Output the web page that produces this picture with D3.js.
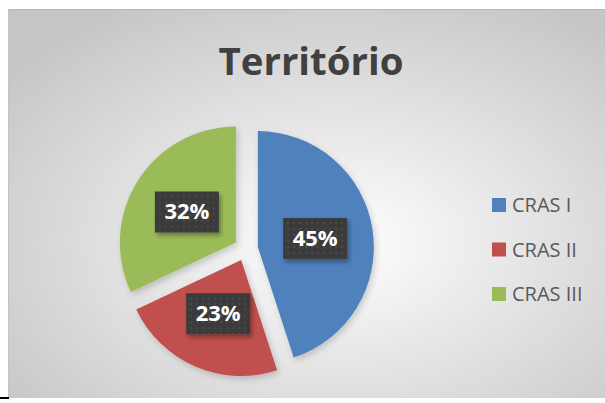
<!DOCTYPE html>
<html>
<head>
<meta charset="utf-8">
<script src="https://cdn.jsdelivr.net/npm/d3@7"></script>
<style>
  body { margin: 0; background: #fff; }
  svg { display: block; }
</style>
</head>
<body>
<svg id="chart"></svg>
<script>
// chart data
var title = "Território";
var categories = ["CRAS I", "CRAS II", "CRAS III"];
var values = [45, 23, 32];
var colors = ["#4f81bd", "#c0504d", "#9bbb59"];

var W = 605, H = 403;
var svg = d3.select("#chart").attr("width", W).attr("height", H);
var defs = svg.append("defs");

// background gradient of the chart area
var bg = defs.append("radialGradient").attr("id", "bg")
    .attr("cx", "0.55").attr("cy", "0.6").attr("r", "0.7");
bg.append("stop").attr("offset", "0%").attr("stop-color", "#ffffff");
bg.append("stop").attr("offset", "100%").attr("stop-color", "#c6c6c6");

// dotted pattern for label boxes
var pat = defs.append("pattern").attr("id", "dots")
    .attr("width", 6).attr("height", 6).attr("patternUnits", "userSpaceOnUse");
pat.append("rect").attr("width", 6).attr("height", 6).attr("fill", "#3a3a3a");
pat.append("circle").attr("cx", 3).attr("cy", 3).attr("r", 1).attr("fill", "#505050");

var sh = defs.append("filter").attr("id", "shadow")
    .attr("x", "-20%").attr("y", "-20%").attr("width", "150%").attr("height", "150%");
sh.append("feDropShadow").attr("dx", 2).attr("dy", 3).attr("stdDeviation", 3)
    .attr("flood-color", "#000").attr("flood-opacity", 0.18);

var shBox = defs.append("filter").attr("id", "shadowBox")
    .attr("x", "-20%").attr("y", "-20%").attr("width", "150%").attr("height", "160%");
shBox.append("feDropShadow").attr("dx", 2).attr("dy", 3).attr("stdDeviation", 2)
    .attr("flood-color", "#000").attr("flood-opacity", 0.35);

// chart area
svg.append("rect").attr("x", 8).attr("y", 9).attr("width", W - 8).attr("height", 389)
    .attr("fill", "url(#bg)");
svg.append("line").attr("x1", 8).attr("x2", W).attr("y1", 9.5).attr("y2", 9.5)
    .attr("stroke", "#b8b8b8");
svg.append("line").attr("x1", 8.5).attr("x2", 8.5).attr("y1", 9).attr("y2", 398)
    .attr("stroke", "#c4c4c4");
svg.append("rect").attr("x", 0).attr("y", 397).attr("width", 9).attr("height", 2)
    .attr("fill", "#000");

// title
var t = svg.append("text")
    .attr("x", 311).attr("y", 75)
    .attr("text-anchor", "middle")
    .attr("font-family", "Open Sans")
    .attr("font-weight", "bold")
    .attr("font-size", 40)
    .attr("fill", "#404040")
    .text(title);
var tw = t.node().getComputedTextLength();
t.attr("font-size", 40 * 185 / tw);

// pie
var cx = 246, cy = 249, R = 116, explode = 12, labelR = 58;
var pie = d3.pie().sort(null).value(function(d){ return d; });
var arcs = pie(values);
var arc = d3.arc().innerRadius(0).outerRadius(R);
var total = d3.sum(values);

function dir(d){
    var a = (d.startAngle + d.endAngle) / 2;
    return [Math.sin(a), -Math.cos(a)];
}

var slices = svg.append("g").attr("transform", "translate(" + cx + "," + cy + ")");
slices.selectAll("path")
    .data(arcs)
    .enter().append("path")
    .attr("d", arc)
    .attr("fill", function(d, i){ return colors[i]; })
    .attr("filter", "url(#shadow)")
    .attr("transform", function(d){
        var v = dir(d);
        return "translate(" + v[0] * explode + "," + v[1] * explode + ")";
    });

var labels = slices.selectAll(".lbl")
    .data(arcs)
    .enter().append("g")
    .attr("class", "lbl")
    .attr("transform", function(d){
        var v = dir(d);
        var r = explode + labelR;
        return "translate(" + v[0] * r + "," + v[1] * r + ")";
    });
labels.append("rect")
    .attr("x", -32).attr("y", -20).attr("width", 64).attr("height", 41)
    .attr("fill", "url(#dots)")
    .attr("filter", "url(#shadowBox)");
labels.append("text")
    .attr("text-anchor", "middle")
    .attr("y", 8)
    .attr("font-family", "Open Sans")
    .attr("font-weight", "bold")
    .attr("font-size", 22)
    .attr("fill", "#ffffff")
    .text(function(d){ return Math.round(d.value / total * 100) + "%"; });

// legend
var legY = d3.scalePoint().domain(categories).range([205, 294]);
var leg = svg.append("g").selectAll("g")
    .data(categories)
    .enter().append("g")
    .attr("transform", function(d){ return "translate(492," + legY(d) + ")"; });
leg.append("rect")
    .attr("x", 0).attr("y", -7).attr("width", 14).attr("height", 14)
    .attr("fill", function(d, i){ return colors[i]; });
leg.append("text")
    .attr("x", 20).attr("y", 7)
    .attr("font-family", "Open Sans")
    .attr("font-size", 20)
    .attr("fill", "#595959")
    .text(function(d){ return d; });
</script>
</body>
</html>
